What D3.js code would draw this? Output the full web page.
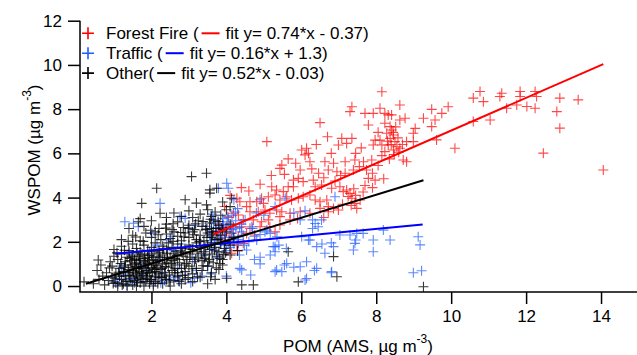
<!DOCTYPE html>
<html>
<head>
<meta charset="utf-8">
<script src="https://cdn.jsdelivr.net/npm/d3@7"></script>
<style>
  body { margin: 0; background: #fff; }
  svg { display: block; font-family: "Liberation Sans", Arial, sans-serif; }
</style>
</head>
<body>
<svg id="chart" width="637" height="355"></svg>
<script>
// scatter data: [POM, WSPOM]
const forestFire = [
  [8.15,8.79],[8.63,8.19],[7.35,8.11],[7.30,7.89],[8.10,8.04],[7.70,7.81],[7.92,7.81],[8.23,7.81],
  [8.32,7.74],[8.41,7.74],[9.48,7.99],[9.75,7.81],[9.92,8.11],[9.26,7.59],[9.57,7.51],[6.50,7.39],
  [7.79,7.28],[8.23,7.36],[8.63,7.51],[8.37,7.21],[8.41,7.06],[8.28,6.91],[8.46,6.83],[8.37,6.68],
  [8.50,6.53],[8.55,6.30],[8.46,6.15],[8.63,6.23],[8.32,6.38],[8.23,6.08],[9.04,7.13],[8.99,6.91],
  [5.08,6.53],[7.08,6.68],[7.35,6.68],[6.99,6.38],[7.21,6.45],[7.97,6.60],[8.10,6.60],[7.92,6.38],
  [8.15,6.38],[8.81,6.53],[8.99,6.53],[8.72,5.70],[8.81,5.62],[6.01,6.15],[6.14,6.23],[6.10,5.93],
  [6.19,6.00],[5.43,5.32],[5.48,5.47],[5.97,5.25],[6.23,5.62],[6.63,5.62],[6.86,5.55],[7.17,5.62],
  [7.43,5.70],[7.66,5.62],[7.88,5.70],[6.46,5.10],[6.72,5.25],[6.95,5.17],[7.17,5.10],[7.39,5.25],
  [7.74,5.25],[7.79,4.87],[7.97,4.79],[5.79,4.79],[5.92,4.87],[6.05,4.72],[6.32,4.79],[6.37,4.49],
  [6.54,4.57],[6.81,4.42],[7.03,4.49],[7.12,4.27],[7.21,4.34],[7.30,4.19],[7.35,3.97],[7.43,3.74],
  [7.57,3.89],[7.48,3.51],[5.21,4.49],[5.34,4.34],[5.52,4.27],[5.65,4.49],[5.79,4.49],[5.12,4.04],
  [5.30,4.12],[5.43,3.89],[5.61,4.04],[5.74,3.89],[5.92,3.97],[6.05,4.04],[6.23,4.12],[6.37,3.89],
  [6.50,3.81],[6.68,3.89],[6.72,3.59],[6.86,3.51],[6.99,3.44],[4.94,3.97],[4.99,3.74],[4.81,3.81],
  [4.63,3.81],[4.54,3.59],[4.36,3.81],[4.28,3.97],[4.63,3.36],[4.85,3.36],[5.03,3.44],[5.16,3.29],
  [5.34,3.44],[5.48,3.36],[5.70,3.29],[5.97,3.36],[6.23,3.29],[6.50,3.51],[6.72,3.36],[4.19,3.29],
  [4.32,3.21],[4.45,2.99],[4.72,2.99],[4.94,2.91],[5.12,2.99],[5.43,3.14],[5.70,2.99],[3.83,2.76],
  [4.01,2.68],[4.19,2.68],[4.41,2.68],[4.63,2.61],[4.90,2.68],[5.16,2.68],[5.43,2.76],[3.74,2.46],
  [3.96,2.31],[4.14,2.38],[4.32,2.23],[4.54,2.38],[4.76,2.31],[3.88,2.08],[4.05,2.00],[4.28,1.85],
  [4.45,1.93],[4.14,1.48],[4.30,1.60],[9.48,7.21],[9.61,6.61],[8.77,7.59],
  [8.45,6.95],[8.52,7.20],[8.30,6.55],[8.58,6.70],[8.40,6.40],[8.48,5.95],[7.25,4.05],[7.40,4.40],
  [7.33,3.65],[7.45,4.10],
  [5.55,5.05],[5.85,5.55],[6.28,5.30],[6.60,4.90],[6.90,4.75],[7.05,5.00],[7.55,5.40],[7.70,4.55],
  [7.90,5.10],[8.05,5.45],[8.15,5.90],[8.35,5.75],[8.60,6.05],[8.70,6.40],[8.05,6.95],[7.60,6.25],
  [7.45,6.00],[6.80,6.00],[6.40,6.40],[6.70,6.75],[5.65,5.75],[5.20,5.00],[4.90,4.60],[4.60,4.30],
  [4.40,4.45],[4.10,4.10],[3.95,3.60],[4.05,3.10],[5.30,2.45],[5.90,3.05],[6.60,3.10],[7.10,3.70],
  [7.65,4.25],[7.90,4.45],[8.20,4.85],
  [10.59,8.50],[10.77,8.80],[10.86,8.34],[11.35,8.72],[11.30,8.57],[11.84,8.80],[11.84,8.57],
  [11.75,8.19],[12.02,8.12],[12.24,8.80],[12.28,8.57],[12.24,8.04],[11.48,8.04],[11.04,7.51],
  [10.59,7.44],[12.90,8.50],[12.82,7.89],[12.90,7.14],[13.39,8.42],[12.46,6.01],[14.06,5.25],
  [10.10,6.23]
];

const traffic = [
  [1.00,0.20],[1.10,0.10],[1.15,0.30],[1.20,0.90],[1.30,0.50],[1.29,2.91],[1.52,2.84],[1.40,1.50],
  [1.60,0.30],[1.70,1.00],[1.80,0.20],[1.90,0.70],[2.01,2.38],[2.10,0.40],[2.20,1.30],[2.23,3.74],
  [2.30,0.60],[2.40,2.10],[2.50,0.30],[2.60,1.60],[2.70,0.80],[2.76,3.14],[2.80,1.90],[2.90,0.50],
  [3.00,2.60],[3.10,1.20],[3.20,0.70],[3.30,2.00],[3.40,1.40],[3.45,2.70],[3.50,0.90],[3.55,2.30],
  [3.60,1.70],[3.65,3.00],[3.70,2.10],[3.75,1.30],[3.79,4.42],[3.80,2.50],[3.85,1.90],[3.90,2.80],
  [3.92,2.76],[3.95,2.20],[4.00,1.60],[4.01,4.65],[4.05,2.90],[4.10,2.40],[4.15,3.20],[4.20,1.90],
  [4.25,2.60],[4.30,3.50],[4.30,2.10],[4.35,1.40],[4.40,2.80],[4.41,0.73],[4.45,2.30],[4.50,3.00],
  [4.54,1.63],[4.60,2.00],[4.65,0.50],[4.70,2.60],[4.75,1.20],[4.80,3.30],[4.36,0.80],[4.05,4.42],
  [4.20,3.90],[1.65,2.68],[2.90,3.06],[3.16,2.76],[4.81,2.08],[5.25,1.78],[5.40,1.85],
  [5.30,1.55],[5.60,1.70],[6.19,2.08],[6.55,1.90],[6.80,1.95],[5.34,0.72],[5.55,0.95],[5.80,0.85],
  [6.14,0.34],[6.35,0.70],[6.80,0.60],[7.39,1.63],[7.45,2.08],[4.90,1.00],
  [5.57,3.97],[6.90,4.04],[6.54,2.99],[6.37,2.83],[6.30,2.60],[6.01,2.23],[6.23,2.08],[6.41,1.78],
  [6.63,1.48],[6.86,1.78],[7.03,2.31],[7.30,2.31],[7.48,2.38],[7.65,2.38],[7.43,1.93],[7.92,2.08],
  [7.92,1.55],[8.19,2.53],[8.37,2.08],[9.12,2.23],[9.17,1.86],[8.99,0.60],[9.21,0.69],[5.30,1.78],
  [5.17,1.40],[4.90,1.30],[5.61,1.02],[5.30,0.65],[5.48,0.65],[5.97,0.87],[6.14,1.10],
  [6.41,0.80],[6.10,0.27],[6.81,0.65],[4.68,2.68],[4.75,2.25],[4.90,2.33],[5.03,2.45],[5.08,2.53],
  [5.17,2.38],[5.35,2.23],[5.97,2.99],[6.30,2.99],[6.45,2.68],[5.80,3.30],[6.10,3.40],[5.00,3.20],
  [5.30,3.60],[4.90,3.90],[3.60,2.45],[3.72,2.65],[3.85,2.35],[3.98,2.55],[4.12,2.75],[4.25,2.95],
  [3.68,1.95],[3.82,2.15],[4.08,2.05],[4.18,2.25],[3.90,3.05],[4.35,2.65],[1.35,0.05],[1.55,0.15],
  [2.05,0.10],[2.35,0.25],[2.65,0.40],[3.05,0.15],[3.35,0.45],[2.15,1.85],[2.55,2.25],[1.95,1.55],
  [3.58,2.05],[3.66,2.85],[3.74,1.55],[3.86,2.65],[3.94,1.85],[4.02,3.15],[4.10,1.75],[4.16,2.55],
  [4.24,3.35],[4.32,1.95],[4.40,2.45],[4.48,1.85],[3.62,3.25],[1.25,0.60],[1.45,0.30],[1.75,0.55],
  [2.25,0.15],[2.75,0.20],[3.15,0.35],[3.60,0.55],[4.00,0.45]
];

const other = [
  [0.20,0.19],[0.45,0.10],[0.60,0.30],[0.75,0.05],[0.85,0.25],[0.95,0.40],[1.05,0.15],[1.10,0.00],
  [1.20,0.30],[1.25,0.10],[1.30,0.45],[1.35,0.00],[1.40,0.20],[1.45,0.35],[1.50,0.05],[1.55,0.25],
  [1.60,0.00],[1.62,0.40],[1.70,0.15],[1.75,0.30],[1.80,0.00],[1.85,0.20],[1.90,0.45],[1.95,0.10],
  [2.00,0.30],[2.05,0.00],[2.10,0.20],[2.20,0.40],[2.30,0.10],[2.40,0.30],[2.50,0.00],[2.60,0.25],
  [2.70,0.45],[2.80,0.10],[2.90,0.30],[3.10,0.20],[3.30,0.40],[3.50,0.10],[3.70,0.30],[4.01,0.35],
  [4.41,0.05],[4.72,0.05],
  [0.55,0.70],[0.80,0.60],[0.95,0.90],[1.05,0.55],[1.15,0.80],[1.25,0.65],[1.30,0.95],[1.40,0.60],
  [1.45,0.85],[1.50,0.70],[1.55,1.00],[1.60,0.55],[1.65,0.80],[1.70,0.95],[1.75,0.60],[1.80,0.85],
  [1.85,0.70],[1.90,1.00],[1.95,0.60],[2.00,0.80],[2.05,0.95],[2.10,0.65],[2.15,0.85],[2.20,0.55],
  [2.25,0.75],[2.30,1.00],[2.35,0.60],[2.45,0.85],[2.55,0.70],[2.60,0.95],[2.70,0.60],[2.80,0.80],
  [2.90,0.65],[3.00,0.90],[3.10,0.55],[3.20,0.80],[3.35,0.70],[3.50,0.90],[3.60,0.60],[3.80,0.75],
  [3.90,0.95],
  [0.58,1.18],[0.90,1.10],[1.00,1.35],[1.10,1.20],[1.20,1.45],[1.30,1.10],[1.35,1.30],[1.45,1.15],
  [1.50,1.40],[1.55,1.20],[1.60,1.05],[1.65,1.35],[1.70,1.15],[1.75,1.45],[1.80,1.25],[1.85,1.05],
  [1.90,1.30],[1.95,1.15],[2.00,1.45],[2.05,1.20],[2.10,1.05],[2.15,1.35],[2.20,1.15],[2.30,1.40],
  [2.35,1.20],[2.40,1.05],[2.50,1.30],[2.55,1.15],[2.60,1.45],[2.70,1.20],[2.75,1.05],[2.85,1.35],
  [2.95,1.20],[3.05,1.45],[3.15,1.10],[3.25,1.30],[3.35,1.15],[3.45,1.40],[3.55,1.20],[3.65,1.05],
  [3.75,1.35],[3.90,1.20],[4.10,1.40],
  [1.00,1.65],[1.20,1.80],[1.40,1.60],[1.50,1.90],[1.60,1.70],[1.70,1.55],[1.80,1.85],[1.90,1.60],
  [2.00,1.75],[2.10,1.95],[2.20,1.60],[2.30,1.80],[2.40,1.65],[2.45,1.95],[2.55,1.75],[2.65,1.55],
  [2.70,1.90],[2.80,1.70],[2.90,1.55],[3.00,1.85],[3.10,1.65],[3.20,1.95],[3.30,1.75],[3.40,1.55],
  [3.50,1.85],[3.55,1.65],[3.60,1.95],[3.70,1.75],[3.80,1.55],[3.85,1.90],[3.95,1.70],[4.10,1.85],
  [4.30,1.60],[5.65,1.55],[6.86,1.33],[6.95,0.42],[5.92,0.19],[9.26,-0.03],
  [1.20,2.10],[1.50,2.30],[1.70,2.05],[1.85,2.40],[2.00,2.20],[2.10,2.45],[2.25,2.10],[2.40,2.35],
  [2.50,2.15],[2.60,2.45],[2.70,2.25],[2.80,2.05],[2.90,2.40],[3.00,2.20],[3.10,2.45],[3.20,2.10],
  [3.30,2.30],[3.40,2.05],[3.50,2.40],[3.60,2.20],[3.65,2.45],[3.75,2.10],[3.85,2.30],[4.00,2.45],
  [4.20,2.20],
  [1.40,2.60],[1.80,2.70],[2.00,2.95],[2.20,2.60],[2.40,2.80],[2.55,2.55],[2.70,2.90],[2.85,2.65],
  [3.00,2.75],[3.15,2.55],[3.25,2.95],[3.35,2.70],[3.45,2.55],[3.55,2.85],[3.60,2.60],[3.70,2.95],
  [3.80,2.75],[3.90,2.55],[4.10,2.80],
  [1.65,2.91],[1.70,3.05],[2.23,3.29],[2.40,3.10],[2.60,3.30],[2.80,3.15],[3.00,3.40],[3.10,3.10],
  [3.30,3.25],[3.50,3.45],[3.60,3.15],[3.70,3.35],[3.85,3.20],[4.00,3.45],
  [1.74,3.74],[2.14,4.42],[3.07,4.95],[3.47,5.10],[3.56,4.35],[3.74,4.42],[3.47,3.67],[3.20,3.75],
  [2.90,3.90],[3.56,4.20],[4.14,3.97],[4.10,3.59],[3.90,3.80],
  [1.15,0.45],[1.38,0.75],[1.58,0.45],[1.72,0.35],[1.92,0.85],[2.12,0.45],[2.28,0.80],[2.48,0.50],
  [1.28,0.85],[1.48,0.95],[1.68,0.65],[1.88,0.35],[2.08,0.75],[2.38,0.45],[2.62,0.60],[2.88,0.95],
  [1.42,1.25],[1.62,1.50],[1.82,1.40],[2.02,1.30],[2.22,1.50],[2.42,1.30],[2.62,1.25],[2.82,1.50],
  [3.02,1.30],[3.22,1.55],[3.42,1.25],[3.62,1.45],[3.82,1.25],[3.98,1.50],[3.72,2.60],[3.48,2.20],
  [1.02,0.35],[1.12,0.62],[1.22,0.05],[1.32,0.22],[1.42,0.48],[1.52,0.62],[1.58,0.88],[1.63,0.18],
  [1.68,1.22],[1.73,0.78],[1.78,0.48],[1.83,1.12],[1.87,0.58],[1.93,1.38],[1.97,0.28],[2.03,0.62],
  [2.07,1.58],[2.13,0.92],[2.17,0.12],[2.23,1.28],[2.27,0.38],[2.33,1.68],[2.37,0.88],[2.43,1.48],
  [2.47,0.18],[2.53,1.02],[2.58,2.02],[2.63,0.78],[2.68,1.38],[2.73,0.22],[2.78,1.62],[2.83,0.48],
  [2.87,2.22],[2.93,1.02],[2.98,0.38],[3.03,1.68],[3.08,0.78],[3.13,2.32],[3.18,1.22],[3.23,0.42],
  [3.28,2.02],[3.33,1.48],[3.38,0.92],[3.43,1.78],[3.48,2.58],[3.53,1.12],[3.58,0.42],[3.63,2.32],
  [3.68,1.62],[3.73,0.82],[3.78,2.12],[3.83,1.02],[3.88,2.62],[3.93,1.42],[3.97,2.02],[1.18,1.02],
  [1.28,1.62],[1.38,2.02],[1.48,1.32],[1.58,2.22],[1.78,2.02],[1.98,2.52],[2.18,2.32],[2.38,2.62],
  [2.58,2.82],[2.78,2.42],[2.98,2.62],[3.18,2.82],[3.38,2.92],[3.58,3.02],[3.78,2.92],[0.70,0.45],
  [0.88,0.82],[0.98,0.12],[0.65,0.95],[1.08,1.50]
];

// fit lines: slope, intercept, x-extent
const fitNames = ["Forest Fire (", "Traffic (", "Other("];
const fitText = ["fit y= 0.74*x - 0.37)", "fit y= 0.16*x + 1.3)", "fit y= 0.52*x - 0.03)"];
const fitSlope = [0.74, 0.16, 0.52];
const fitIntercept = [-0.37, 1.3, -0.03];
const fitRange = [[3.65, 14.06], [1.03, 9.24], [0.25, 9.26]];

const xTicks = [2, 4, 6, 8, 10, 12, 14];
const yTicks = [0, 2, 4, 6, 8, 10, 12];

const markColor = ["#ff0000", "#1f5cff", "#000000"];
const markOpacity = [0.72, 0.72, 0.78];
const lineColor = ["#ff0000", "#0000ff", "#000000"];

const svg = d3.select('#chart');
const plotLeft = 80, plotRight = 637, plotTop = 20.7, plotBottom = 292;

const x = d3.scaleLinear().domain([0.093, 14.96]).range([plotLeft, plotRight]);
const y = d3.scaleLinear().domain([-0.27, 12]).range([plotBottom, plotTop]);

// axes (Igor style: left + bottom, ticks outside)
const xAxis = svg.append('g')
  .attr('transform', `translate(0,${plotBottom})`)
  .call(d3.axisBottom(x).tickValues(xTicks).tickSize(12).tickPadding(6).tickSizeOuter(0));
const yAxis = svg.append('g')
  .attr('transform', `translate(${plotLeft},0)`)
  .call(d3.axisLeft(y).tickValues(yTicks).tickSize(12).tickPadding(6).tickSizeOuter(0));

[xAxis, yAxis].forEach(a => {
  a.select('.domain').remove();
  a.selectAll('line').attr('stroke', '#000').attr('stroke-width', 1.5);
  a.selectAll('text').attr('font-size', 17).attr('fill', '#000')
    .attr('font-family', '"Liberation Sans", Arial, sans-serif');
});

svg.append('path')
  .attr('d', `M${plotLeft},${y(12)}V${plotBottom}H${plotRight}`)
  .attr('fill', 'none').attr('stroke', '#000').attr('stroke-width', 1.5);

// markers
const cross = (px, py) => `M${px - 5},${py}h10M${px},${py - 5}v10`;
[forestFire, traffic, other].forEach((pts, i) => {
  svg.append('g')
    .selectAll('path')
    .data(pts)
    .join('path')
    .attr('d', d => cross(x(d[0]), y(d[1])))
    .attr('stroke', markColor[i])
    .attr('stroke-opacity', markOpacity[i])
    .attr('stroke-width', 1.1)
    .attr('fill', 'none');
});

// fit lines
fitSlope.forEach((m, i) => {
  const r = fitRange[i];
  svg.append('line')
    .attr('x1', x(r[0])).attr('y1', y(m * r[0] + fitIntercept[i]))
    .attr('x2', x(r[1])).attr('y2', y(m * r[1] + fitIntercept[i]))
    .attr('stroke', lineColor[i]).attr('stroke-width', 2);
});

// legend
const legend = svg.append('g').attr('font-size', 17);
fitNames.forEach((name, i) => {
  const cy = 33.3 + i * 19.9;
  legend.append('path')
    .attr('d', `M82,${cy}h12M88,${cy - 6}v12`)
    .attr('stroke', markColor[i]).attr('stroke-width', 1.6);
  const t = legend.append('text').attr('x', 106).attr('y', cy + 6).text(name);
  const end = 106 + t.node().getComputedTextLength();
  legend.append('line')
    .attr('x1', end + 3).attr('x2', end + 21).attr('y1', cy).attr('y2', cy)
    .attr('stroke', lineColor[i]).attr('stroke-width', 2);
  legend.append('text').attr('x', end + 27).attr('y', cy + 6).text(fitText[i]);
});

// axis titles
const xt = svg.append('text')
  .attr('x', 358).attr('y', 352).attr('text-anchor', 'middle').attr('font-size', 17);
xt.append('tspan').text('POM (AMS, µg m');
xt.append('tspan').attr('font-size', 12).attr('dy', -9).text('-3');
xt.append('tspan').attr('dy', 9).text(')');

const yt = svg.append('text')
  .attr('transform', 'translate(40,150) rotate(-90)')
  .attr('text-anchor', 'middle').attr('font-size', 17);
yt.append('tspan').text('WSPOM (µg m');
yt.append('tspan').attr('font-size', 12).attr('dy', -9).text('-3');
yt.append('tspan').attr('dy', 9).text(')');
</script>
</body>
</html>
